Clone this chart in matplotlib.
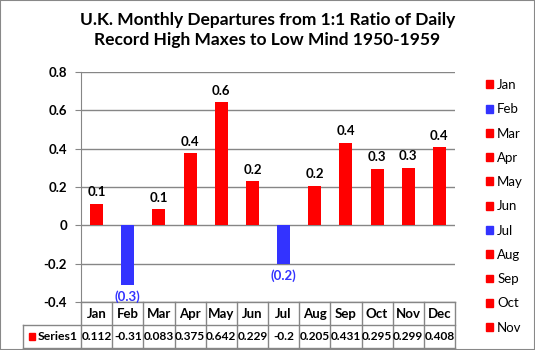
import matplotlib
matplotlib.use("Agg")
import matplotlib.pyplot as plt
from matplotlib.patches import Patch, Rectangle
import matplotlib.transforms as mtransforms

plt.rcParams['font.family'] = ['Lato', 'DejaVu Sans']

months = ['Jan', 'Feb', 'Mar', 'Apr', 'May', 'Jun',
          'Jul', 'Aug', 'Sep', 'Oct', 'Nov', 'Dec']
values = [0.112, -0.31, 0.083, 0.375, 0.642, 0.229,
          -0.2, 0.205, 0.431, 0.295, 0.299, 0.408]
table_text = ['0.112', '-0.31', '0.083', '0.375', '0.642', '0.229',
              '-0.2', '0.205', '0.431', '0.295', '0.299', '0.408']
series_name = 'Series1'
yticks = [-0.4, -0.2, 0, 0.2, 0.4, 0.6, 0.8]
ytick_labels = ['-0.4', '-0.2', '0', '0.2', '0.4', '0.6', '0.8']

RED = '#ff0000'
BLUE = '#3333ff'
GRID = '#868686'

W, H = 535, 350
fig = plt.figure(figsize=(W / 100, H / 100), dpi=100)
fig.patches.append(Rectangle((0, 0), 1, 1, transform=fig.transFigure,
                             fill=False, edgecolor='#888888', lw=1.5))

# plot area in pixels
x0, x1, ytop, ybot = 81, 455, 72, 302
ax = fig.add_axes([x0 / W, (H - ybot) / H, (x1 - x0) / W, (ybot - ytop) / H])

colors = [RED if v >= 0 else BLUE for v in values]
xs = range(len(months))
ax.bar(xs, values, width=0.42, color=colors, zorder=3)

ax.set_xlim(-0.5, len(months) - 0.5)
ax.set_ylim(-0.4, 0.8)
ax.set_yticks(yticks)
ax.set_yticklabels(ytick_labels, fontweight='bold', fontsize=9.5)
ax.yaxis.grid(True, color=GRID, lw=1)
ax.set_axisbelow(True)
ax.tick_params(axis='y', length=4, color=GRID, pad=6)
ax.set_xticks([])
for s in ['top', 'right', 'bottom']:
    ax.spines[s].set_visible(False)
ax.spines['left'].set_color(GRID)

# data labels
for i, v in enumerate(values):
    if v >= 0:
        ax.annotate(f'{v:.1f}', (i, v), xytext=(0, 4), textcoords='offset points',
                    ha='center', va='bottom', fontsize=9.5, fontweight='bold')
    else:
        ax.annotate(f'({abs(v):.1f})', (i, v), xytext=(0, -4), textcoords='offset points',
                    ha='center', va='top', fontsize=9.5, color=BLUE, fontweight='bold')

# data table under the plot
trans = mtransforms.blended_transform_factory(ax.transData, ax.transAxes)
row_h = 23 / (ybot - ytop)
left_lab = -0.5 - (x0 - 23) / ((x1 - x0) / len(months))
line_kw = dict(color=GRID, lw=1, transform=trans, clip_on=False)
ax.plot([-0.5, 11.5], [0, 0], **line_kw)
ax.plot([left_lab, 11.5], [-row_h, -row_h], **line_kw)
ax.plot([left_lab, 11.5], [-2 * row_h, -2 * row_h], **line_kw)
ax.plot([left_lab, left_lab], [-row_h, -2 * row_h], **line_kw)
for i in range(len(months) + 1):
    ax.plot([i - 0.5, i - 0.5], [0, -2 * row_h], **line_kw)
for i, m in enumerate(months):
    ax.text(i, -row_h / 2, m, transform=trans, ha='center', va='center',
            fontsize=9.5, fontweight='bold')
    ax.text(i, -1.5 * row_h, table_text[i], transform=trans, ha='center',
            va='center', fontsize=8.6, fontweight='bold')
ax.add_patch(Rectangle((left_lab + 0.18, -1.5 * row_h - 0.015), 0.22, 0.03,
                       transform=trans, color=RED, clip_on=False))
ax.text(left_lab + 0.46, -1.5 * row_h, series_name, transform=trans, ha='left',
        va='center', fontsize=8.8, fontweight='bold')

# title
fig.text(0.5, 1 - 30 / H, 'U.K. Monthly Departures from 1:1 Ratio of Daily\nRecord High Maxes to Low Mind 1950-1959',
         ha='center', va='center', fontsize=12.5, fontweight='bold', linespacing=1.3)

# legend (Dec is cut off in the original)
handles = [Patch(color=c, label=m) for m, c in zip(months[:11], colors[:11])]
fig.legend(handles=handles, loc='upper left', bbox_to_anchor=(486 / W, 1 - 79 / H),
           frameon=False, fontsize=9.5, handlelength=0.55, handleheight=0.55,
           handletextpad=0.3, labelspacing=0.93, borderpad=0, borderaxespad=0)

fig.savefig('out.png', dpi=100)
